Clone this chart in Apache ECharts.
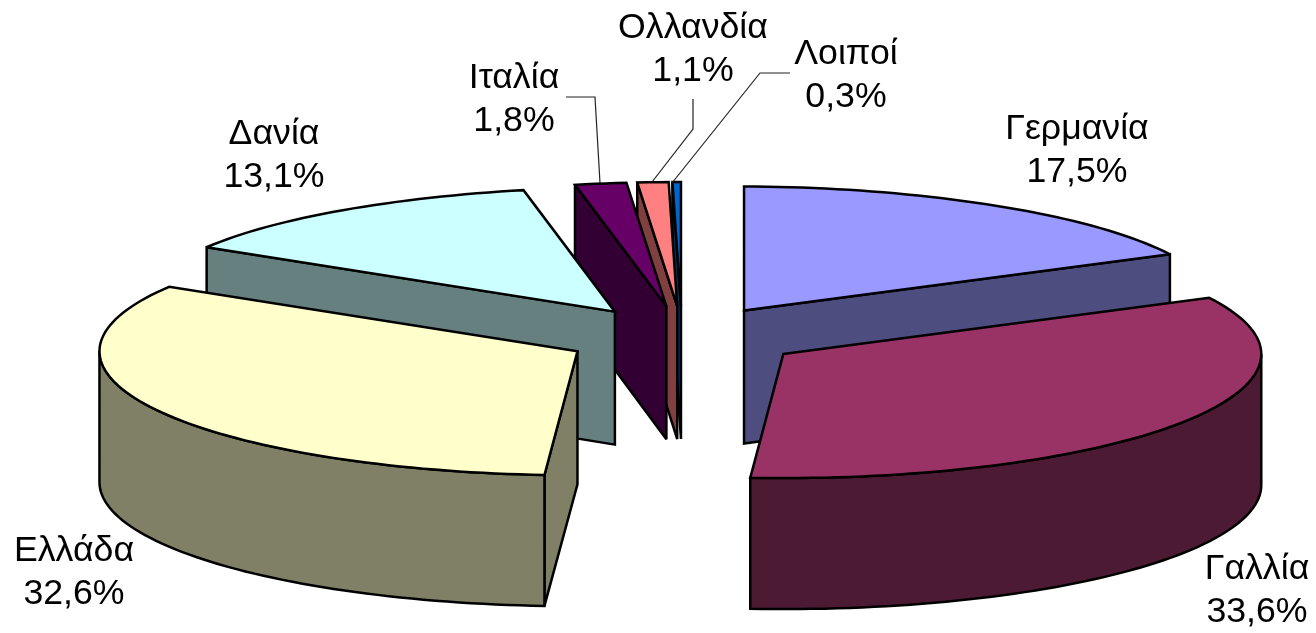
<!DOCTYPE html>
<html><head><meta charset="utf-8">
<style>html,body{margin:0;padding:0;background:#fff}#c{width:1316px;height:633px}</style>
<script src="https://cdn.jsdelivr.net/npm/echarts@6/dist/echarts.min.js"></script>
</head><body><div id="c"></div>
<script>
// Data
const categories = ['Γερμανία','Γαλλία','Ελλάδα','Δανία','Ιταλία','Ολλανδία','Λοιποί'];
const shares = [17.5,33.6,32.6,13.1,1.8,1.1,0.3];
const shareLabels = ['17,5%','33,6%','32,6%','13,1%','1,8%','1,1%','0,3%'];
// Styles
const topColors = ['#9999FF','#993366','#FFFFCC','#CCFFFF','#660066','#FF8080','#0066CC'];
const wallColors = ['#4D4D80','#4D1A33','#808066','#668080','#330033','#804040','#003366'];
// Layout
const cx = 683.6, cy = 337, rx = 478, ry = 124, rimDepth = 131, apexDepth = 133, explode = 0.25;
const backNarrowing = 0.05;
const sliceNudgeX = [-2,0,0,0,0,0,-1.5];
const labelCenters = [[1077,151],[1257,591],[74,573],[274,156],[514,100],[693,50],[846,76]];
const leaders = [null,null,null,null,
  [[566,97],[595,97],[600,183]],
  [[693,99],[693,129],[652,182]],
  [[790,73],[760,73],[672,183]]];

const rad = d => d*Math.PI/180;
function pt(ax,ay,deg,dy=0){
  const c = Math.cos(rad(deg));
  const narrow = c>0 ? 1-backNarrowing*Math.pow(c,8) : 1;   // perspective at the far rim
  return [ax+rx*Math.sin(rad(deg))*narrow, ay-ry*c+dy];
}
const total = shares.reduce((a,b)=>a+b,0);
let acc = 0;
const spans = shares.map(v => { const s = acc/total*360; acc += v; return [s, acc/total*360]; });
const apexes = spans.map(([s,e],i) => {
  const m = (s+e)/2;
  return [cx+explode*rx*Math.sin(rad(m))+sliceNudgeX[i], cy-explode*ry*Math.cos(rad(m))];
});
// paint from back to front
const rank = apexes.map((a,i)=>[a[1],i]).sort((p,q)=>p[0]-q[0]).reduce((o,p,r)=>(o[p[1]]=r,o),{});

function arc(ax,ay,s,e,dy=0){
  const n = Math.max(2, Math.ceil((e-s)/1.5)), out=[];
  for(let k=0;k<=n;k++) out.push(pt(ax,ay,s+(e-s)*k/n,dy));
  return out;
}
function renderItem(params, api){
  const i = api.value(1);
  const [s,e] = spans[i], [ax,ay] = apexes[i], z = rank[i]*10, m=(s+e)/2;
  const kids = [];
  const poly = (points,fill,zz)=>kids.push({type:'polygon',z2:z+zz,shape:{points},
    style:{fill,stroke:'#000',lineWidth:2.5,lineJoin:'miter',miterLimit:3}});
  // radial cut walls, when they face the viewer
  [s,e].forEach(a=>{
    const p = pt(ax,ay,a), ex=p[0]-ax, ey=p[1]-ay;
    const mp = pt(0,0,m);
    let nx=-ey, ny=ex;
    if(nx*mp[0]+ny*mp[1]>0){nx=-nx;ny=-ny;}
    if(ny>0) poly([[ax,ay],p,[p[0],p[1]+rimDepth],[ax,ay+apexDepth]],wallColors[i],1);
  });
  // outer rim wall
  const rs=Math.max(s,90), re=Math.min(e,270);
  if(re>rs) poly(arc(ax,ay,rs,re).concat(arc(ax,ay,rs,re,rimDepth).reverse()),wallColors[i],2);
  // top face
  poly([[ax,ay]].concat(arc(ax,ay,s,e)),topColors[i],3);
  // labels
  kids.push({type:'text',z2:200,style:{text:categories[i]+'\n'+shareLabels[i],
    x:labelCenters[i][0],y:labelCenters[i][1],align:'center',verticalAlign:'middle',
    font:'35.7px "Liberation Sans", Arial, sans-serif',lineHeight:43,fill:'#000'}});
  if(leaders[i]) kids.push({type:'polyline',z2:150,shape:{points:leaders[i]},
    style:{fill:null,stroke:'#222',lineWidth:1.2}});
  return {type:'group',children:kids};
}
const chart = echarts.init(document.getElementById('c'),null,{renderer:'canvas'});
chart.setOption({
  backgroundColor:'#fff',animation:false,
  series:[{type:'custom',coordinateSystem:'none',silent:true,clip:false,
    data:shares.map((v,i)=>[v,i]),renderItem}]
});
</script></body></html>
